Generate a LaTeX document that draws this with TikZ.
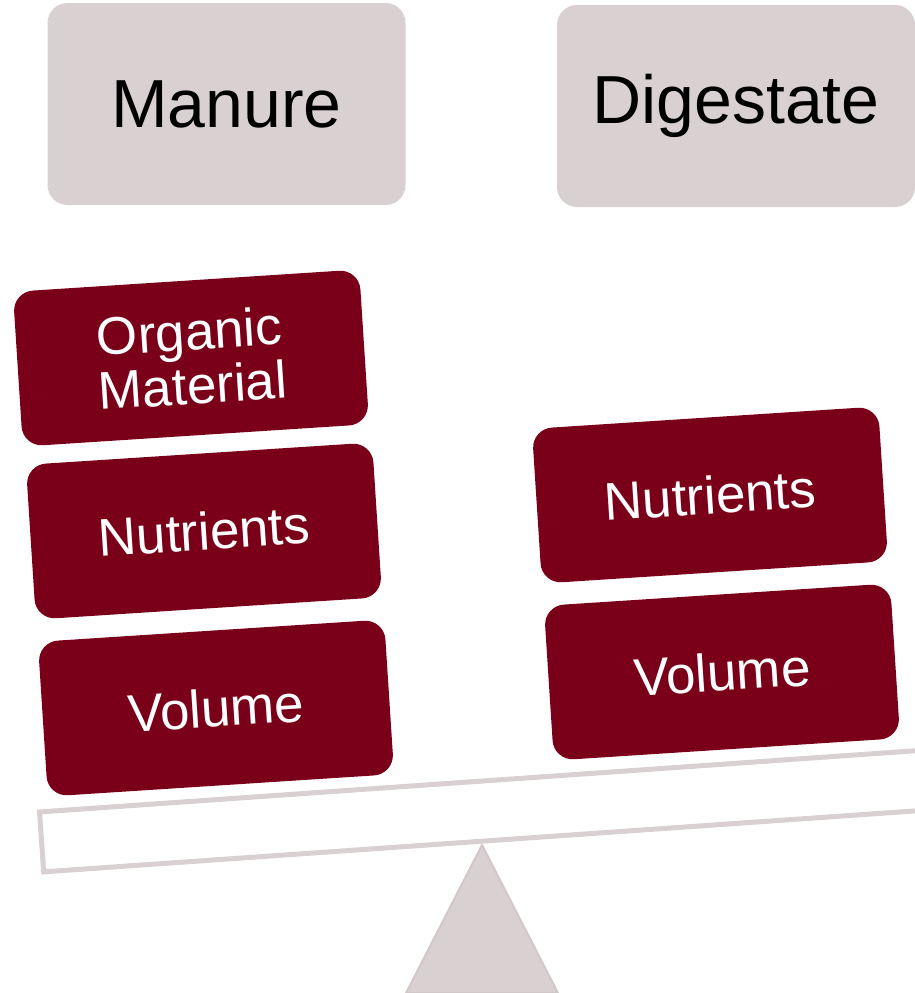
\documentclass[tikz,border=0pt]{standalone}
\usepackage{fontspec}
\setmainfont{Liberation Sans}
\definecolor{maroon}{HTML}{7A0019}
\definecolor{mist}{HTML}{D9D0D2}
\definecolor{mistedge}{HTML}{D2C8CA}
\begin{document}
\begin{tikzpicture}[x=1pt,y=1pt,
  titlebox/.style={fill=mist, rounded corners=20pt, inner sep=0pt,
    minimum width=358pt, minimum height=202pt,
    font=\fontsize{68pt}{80pt}\selectfont, text=black},
  weightbox/.style={fill=maroon, rounded corners=20pt, inner sep=0pt,
    minimum width=347pt, minimum height=155pt, rotate=3.7,
    align=center, text=white,
    font=\fontsize{53pt}{54pt}\selectfont}]
\useasboundingbox (0,0) rectangle (915,-993);
\clip (0,0) rectangle (915,-993);

% headings
\node[titlebox] (manure) at (226.5,-104) {Manure};
\node[titlebox] (digest) at (736,-106) {Digestate};

% loads on the left pan
\node[weightbox] (organic) at (191,-358) {Organic\\Material};
\node[weightbox] (nutL) at (204,-531) {Nutrients};
\node[weightbox] (volL) at (216,-708) {Volume};

% loads on the right pan
\node[weightbox] (nutR) at (710,-495) {Nutrients};
\node[weightbox] (volR) at (722,-672) {Volume};

% tilted beam
\coordinate (beamcorner) at (39.5,-812);
\draw[mist, line width=5pt, rotate around={4:(beamcorner)}]
  (beamcorner) rectangle ++(1000,-60);

% pivot
\coordinate (apex) at (482,-845);
\draw[fill=mist, draw=mistedge, line width=2pt, line join=round]
  (406,-993) -- (apex) -- (558,-993) -- cycle;
\end{tikzpicture}
\end{document}
